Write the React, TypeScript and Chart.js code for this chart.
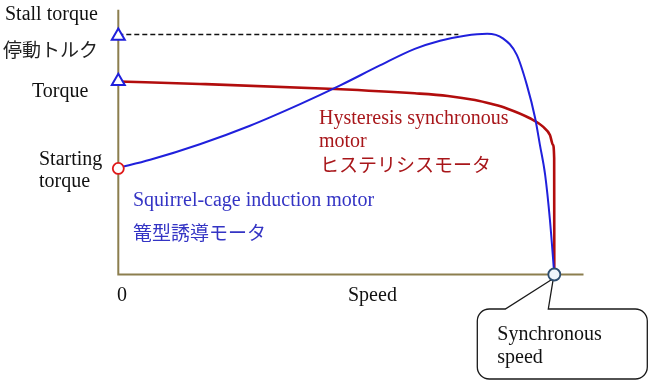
import React, { useEffect, useRef } from 'react';
import { Chart, registerables } from 'chart.js';

Chart.register(...registerables);

// ---- data (speed in % of synchronous speed, torque in % of stall torque) ----
const inductionSpeed = [0, 7.3, 18.7, 30.2, 41.7, 50.9, 60, 68, 73.8, 79.5, 84.6, 88.2, 91.4, 93.7, 95.6, 96.7, 97.9, 99, 100];
const inductionTorque = [44.4, 47.8, 54.3, 62, 71, 78.8, 87.1, 94, 97.4, 99.5, 100.3, 98.4, 91.5, 79, 65.2, 54, 41.5, 22.7, 0];
const hysteresisSpeed = [0, 18.7, 49.7, 68, 75.6, 81.8, 85.7, 89.1, 94.4, 97.4, 99, 99.7, 99.97, 100];
const hysteresisTorque = [80.4, 79.4, 77.3, 75.5, 74.4, 72.7, 71, 69.2, 65.1, 61.6, 58.1, 54, 48.5, 0];
const stallTorque = 99.4;
const ratedTorque = 80.5;
const startingTorque = 44.2;
const syncSpeed = 100;
const stallLineEnd = 78;
const xAxisEnd = 106.7;
const yAxisTop = 110.3;

// ---- layout (pixels) ----
const W = 650;
const H = 382;
const ORIGIN_X = 118.3;
const ORIGIN_Y = 274.5;
const PX_PER_SPEED = 4.36;
const PX_PER_TORQUE = 2.4;
const X_MIN = -ORIGIN_X / PX_PER_SPEED;
const X_MAX = X_MIN + W / PX_PER_SPEED;
const Y_MAX = ORIGIN_Y / PX_PER_TORQUE;
const Y_MIN = Y_MAX - H / PX_PER_TORQUE;

const AXIS_COLOR = '#8c7e4e';
const BLUE = '#2020dc';
const RED = '#b20d0d';
const BLUE_TEXT = '#3434c4';
const RED_TEXT = '#a8161a';
const SERIF = '"Liberation Serif", "Times New Roman", serif';
const CJK = '"Noto Sans CJK JP", sans-serif';

const zip = (xs: number[], ys: number[]) => xs.map((v, i) => ({ x: v, y: ys[i] }));

const annotations = {
  id: 'annotations',
  beforeDatasetsDraw(chart: any) {
    const { ctx, scales } = chart;
    const x = scales.x;
    const y = scales.y;
    const x0 = x.getPixelForValue(0);
    const y0 = y.getPixelForValue(0);
    ctx.save();
    ctx.strokeStyle = AXIS_COLOR;
    ctx.lineWidth = 2;
    ctx.beginPath();
    ctx.moveTo(x0, y.getPixelForValue(yAxisTop));
    ctx.lineTo(x0, y0);
    ctx.lineTo(x.getPixelForValue(xAxisEnd), y0);
    ctx.stroke();

    // callout
    const tx = x.getPixelForValue(syncSpeed);
    const ty = y0;
    const L = tx - 77, R = tx + 93, T = ty + 34.5, B = ty + 104.5, r = 12;
    ctx.beginPath();
    ctx.moveTo(L + r, T);
    ctx.lineTo(tx - 49, T);
    ctx.lineTo(tx - 1, ty + 4);
    ctx.lineTo(tx - 6, T);
    ctx.lineTo(R - r, T);
    ctx.arcTo(R, T, R, T + r, r);
    ctx.lineTo(R, B - r);
    ctx.arcTo(R, B, R - r, B, r);
    ctx.lineTo(L + r, B);
    ctx.arcTo(L, B, L, B - r, r);
    ctx.lineTo(L, T + r);
    ctx.arcTo(L, T, L + r, T, r);
    ctx.closePath();
    ctx.fillStyle = '#ffffff';
    ctx.fill();
    ctx.strokeStyle = '#1a1a1a';
    ctx.lineWidth = 1.3;
    ctx.stroke();

    ctx.fillStyle = '#111';
    ctx.font = `20px ${SERIF}`;
    ctx.textBaseline = 'alphabetic';
    ctx.textAlign = 'left';
    ctx.fillText('Synchronous', L + 20, ty + 65.5);
    ctx.fillText('speed', L + 20, ty + 88.5);
    ctx.restore();
  },
  afterDatasetsDraw(chart: any) {
    const { ctx } = chart;
    ctx.save();
    ctx.textAlign = 'left';
    ctx.textBaseline = 'alphabetic';
    ctx.fillStyle = '#111';
    ctx.font = `20px ${SERIF}`;
    ctx.fillText('Stall torque', 5, 20);
    ctx.fillText('Torque', 32, 97);
    ctx.fillText('Starting', 39, 165);
    ctx.fillText('torque', 39, 187);
    ctx.fillText('0', 117, 301);
    ctx.fillText('Speed', 348, 301);

    ctx.fillStyle = BLUE_TEXT;
    ctx.fillText('Squirrel-cage induction motor', 133, 206);
    ctx.fillStyle = RED_TEXT;
    ctx.fillText('Hysteresis synchronous', 319, 124);
    ctx.fillText('motor', 319, 147);

    ctx.textBaseline = 'middle';
    ctx.font = `19px ${CJK}`;
    ctx.fillStyle = '#222';
    ctx.fillText('停動トルク', 3, 50);
    ctx.fillStyle = BLUE_TEXT;
    ctx.fillText('篭型誘導モータ', 133, 233);
    ctx.fillStyle = RED_TEXT;
    ctx.fillText('ヒステリシスモータ', 320, 165);
    ctx.restore();
  },
};

export default function App() {
  const ref = useRef<HTMLCanvasElement | null>(null);
  useEffect(() => {
    if (!ref.current) return;
    const chart = new Chart(ref.current, {
      type: 'scatter',
      data: {
        datasets: [
          {
            data: [{ x: syncSpeed, y: 0 }],
            pointStyle: 'circle',
            pointRadius: 6,
            pointBorderWidth: 1.8,
            pointBorderColor: '#2e4e70',
            pointBackgroundColor: '#eef4fb',
            showLine: false,
            clip: false,
          },
          {
            data: [{ x: 0, y: stallTorque }, { x: 0, y: ratedTorque }],
            pointStyle: 'triangle',
            pointRadius: 7.5,
            pointBorderWidth: 2,
            pointBorderColor: BLUE,
            pointBackgroundColor: '#ffffff',
            showLine: false,
            clip: false,
          },
          {
            data: [{ x: 0, y: startingTorque }],
            pointStyle: 'circle',
            pointRadius: 5.5,
            pointBorderWidth: 1.8,
            pointBorderColor: '#e01818',
            pointBackgroundColor: '#ffffff',
            showLine: false,
            clip: false,
          },
          {
            data: zip(inductionSpeed, inductionTorque),
            showLine: true,
            borderColor: BLUE,
            borderWidth: 2,
            pointRadius: 0,
            cubicInterpolationMode: 'monotone',
            clip: false,
          },
          {
            data: zip(hysteresisSpeed, hysteresisTorque),
            showLine: true,
            borderColor: RED,
            borderWidth: 2.6,
            pointRadius: 0,
            cubicInterpolationMode: 'monotone',
            clip: false,
          },
          {
            data: [{ x: 0, y: 100 }, { x: stallLineEnd, y: 100 }],
            showLine: true,
            borderColor: '#111',
            borderWidth: 1.3,
            borderDash: [5, 3],
            pointRadius: 0,
            clip: false,
          },
        ],
      },
      options: {
        animation: false,
        responsive: false,
        maintainAspectRatio: false,
        layout: { padding: 0, autoPadding: false },
        plugins: { legend: { display: false }, tooltip: { enabled: false } },
        scales: {
          x: { type: 'linear', display: false, min: X_MIN, max: X_MAX },
          y: { type: 'linear', display: false, min: Y_MIN, max: Y_MAX },
        },
      },
      plugins: [annotations],
    } as any);
    return () => chart.destroy();
  }, []);
  return (
    <div style={{ position: 'absolute', left: 0, top: 0, width: W, height: H, background: '#fff' }}>
      <canvas ref={ref} width={W} height={H} style={{ display: 'block', width: W, height: H }} />
    </div>
  );
}
